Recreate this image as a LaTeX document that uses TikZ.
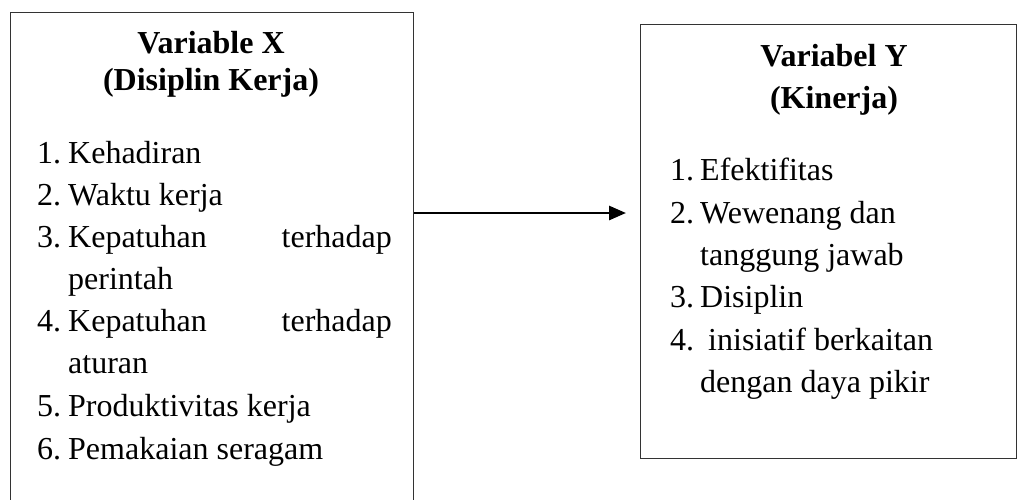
\documentclass[tikz,border=0pt]{standalone}
\usepackage{fontspec}
\setmainfont{Liberation Serif}
\usetikzlibrary{arrows.meta}
\begin{document}
\begin{tikzpicture}[x=1pt,y=-1pt,
  boxline/.style={draw=black!80,line width=1.4pt},
  txt/.style={inner sep=0pt,anchor=base west,font=\fontsize{32}{36}\selectfont},
  txtr/.style={inner sep=0pt,anchor=base east,font=\fontsize{32}{36}\selectfont},
  ttl/.style={inner sep=0pt,anchor=base,font=\fontsize{32}{36}\selectfont\bfseries},
  arr/.style={line width=2.8pt,-{Triangle[length=17pt,width=14pt]}}]
\useasboundingbox (0,0) rectangle (1019,499);
% boxes
\node[boxline,inner sep=0pt,minimum width=403.5pt,minimum height=500pt,anchor=north west] (boxX) at (9.5,12) {};
\node[boxline,inner sep=0pt,minimum width=376pt,minimum height=434pt,anchor=north west] (boxY) at (640,24) {};
% left texts
\node[ttl] (tx1) at (211,53) {Variable X};
\node[ttl] (tx2) at (211,90) {(Disiplin Kerja)};
\node[txt] (x1n) at (37,163) {1.};
\node[txt] (x1) at (68,163) {Kehadiran};
\node[txt] (x2n) at (37,205) {2.};
\node[txt] (x2) at (68,205) {Waktu kerja};
\node[txt] (x3n) at (37,247) {3.};
\node[txt] (x3) at (68,247) {Kepatuhan};
\node[txtr] (x3b) at (392,247) {terhadap};
\node[txt] (x3c) at (68,289) {perintah};
\node[txt] (x4n) at (37,331) {4.};
\node[txt] (x4) at (68,331) {Kepatuhan};
\node[txtr] (x4b) at (392,331) {terhadap};
\node[txt] (x4c) at (68,373) {aturan};
\node[txt] (x5n) at (37,416) {5.};
\node[txt] (x5) at (68,416) {Produktivitas kerja};
\node[txt] (x6n) at (37,459) {6.};
\node[txt] (x6) at (68,459) {Pemakaian seragam};
% right texts
\node[ttl] (ty1) at (834,66) {Variabel Y};
\node[ttl] (ty2) at (834,108) {(Kinerja)};
\node[txt] (y1n) at (670,180) {1.};
\node[txt] (y1) at (700,180) {Efektifitas};
\node[txt] (y2n) at (670,223) {2.};
\node[txt] (y2) at (700,223) {Wewenang dan};
\node[txt] (y2c) at (700,265) {tanggung jawab};
\node[txt] (y3n) at (670,307) {3.};
\node[txt] (y3) at (700,307) {Disiplin};
\node[txt] (y4n) at (670,350) {4.};
\node[txt] (y4) at (708,350) {inisiatif berkaitan};
\node[txt] (y4c) at (700,392) {dengan daya pikir};
% arrow
\coordinate (tip) at (626,213);
\draw[arr] (boxX.east |- tip) -- (tip);
\end{tikzpicture}
\end{document}
